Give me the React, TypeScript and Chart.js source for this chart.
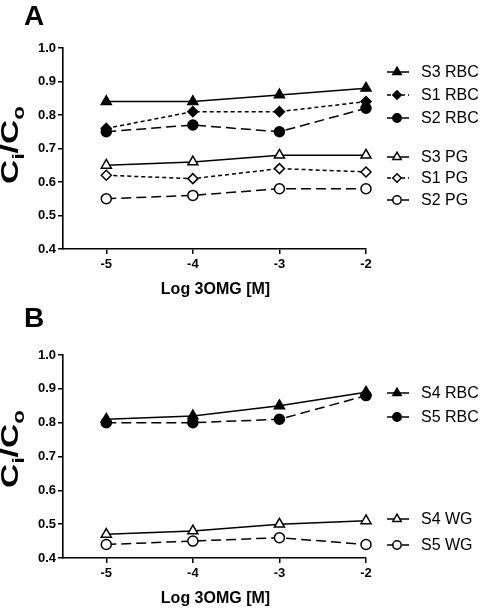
import React, { useEffect, useRef } from "react";
import { Chart, registerables } from "chart.js";
import { drawPoint } from "chart.js/helpers";

Chart.register(...registerables);

const FONT = '"Liberation Sans", Arial, Helvetica, sans-serif';

// ---------- data ----------
const doses = [-5, -4, -3, -2];
const xTicks = [-5, -4, -3, -2];
const yTicks = [0.4, 0.5, 0.6, 0.7, 0.8, 0.9, 1.0];

// Panel A
const s3RBC = [0.84, 0.84, 0.86, 0.88];
const s1RBC = [0.76, 0.81, 0.81, 0.84];
const s2RBC = [0.75, 0.77, 0.75, 0.82];
const s3PG = [0.65, 0.66, 0.68, 0.68];
const s1PG = [0.62, 0.61, 0.64, 0.63];
const s2PG = [0.55, 0.56, 0.58, 0.58];

// Panel B
const s4RBC = [0.81, 0.82, 0.85, 0.89];
const s5RBC = [0.8, 0.8, 0.81, 0.88];
const s4WG = [0.47, 0.48, 0.5, 0.51];
const s5WG = [0.44, 0.45, 0.46, 0.44];

const labelsA = ["S3 RBC", "S1 RBC", "S2 RBC", "S3 PG", "S1 PG", "S2 PG"];
const labelsB = ["S4 RBC", "S5 RBC", "S4 WG", "S5 WG"];

const xTitle = "Log 3OMG [M]";

// ---------- styles ----------
const SOLID: number[] = [];
const DOTTED = [4, 3];
const DASHED = [10, 5];

type Series = {
  label: string;
  values: number[];
  style: string;
  filled: boolean;
  dash: number[];
};

function makeDataset(s: Series) {
  const r = s.style === "triangle" ? 5.8 : 5;
  return {
    label: s.label,
    data: doses.map((x, i) => ({ x, y: s.values[i] })),
    borderColor: "#000",
    borderWidth: 1.5,
    borderDash: s.dash,
    backgroundColor: s.filled ? "#000" : "#fff",
    pointStyle: s.style,
    pointRadius: r,
    pointBackgroundColor: s.filled ? "#000" : "#fff",
    pointBorderColor: "#000",
    pointBorderWidth: 1.5,
    tension: 0,
    fill: false,
    clip: false,
  };
}

const seriesA: Series[] = [
  { label: labelsA[0], values: s3RBC, style: "triangle", filled: true, dash: SOLID },
  { label: labelsA[1], values: s1RBC, style: "rectRot", filled: true, dash: DOTTED },
  { label: labelsA[2], values: s2RBC, style: "circle", filled: true, dash: DASHED },
  { label: labelsA[3], values: s3PG, style: "triangle", filled: false, dash: SOLID },
  { label: labelsA[4], values: s1PG, style: "rectRot", filled: false, dash: DOTTED },
  { label: labelsA[5], values: s2PG, style: "circle", filled: false, dash: DASHED },
];

const seriesB: Series[] = [
  { label: labelsB[0], values: s4RBC, style: "triangle", filled: true, dash: SOLID },
  { label: labelsB[1], values: s5RBC, style: "circle", filled: true, dash: DASHED },
  { label: labelsB[2], values: s4WG, style: "triangle", filled: false, dash: SOLID },
  { label: labelsB[3], values: s5WG, style: "circle", filled: false, dash: DASHED },
];

// ---------- overlay plugin ----------
const overlayPlugin = {
  id: "overlay",
  afterDraw(chart: any, _args: any, opts: any) {
    const ctx: CanvasRenderingContext2D = chart.ctx;
    const ca = chart.chartArea;
    ctx.save();
    ctx.fillStyle = "#000";
    ctx.strokeStyle = "#000";

    // panel letter
    ctx.font = `bold 28px ${FONT}`;
    ctx.textAlign = "left";
    ctx.textBaseline = "alphabetic";
    ctx.fillText(opts.letter, 24, opts.letterY);

    // x title
    ctx.font = `bold 16px ${FONT}`;
    ctx.textAlign = "center";
    ctx.textBaseline = "middle";
    ctx.fillText(xTitle, (ca.left + ca.right) / 2 + 1, ca.bottom + opts.xTitleOffset);

    // y title  C_i / C_o
    ctx.save();
    ctx.translate(18, opts.yTitleY);
    ctx.rotate(-Math.PI / 2);
    ctx.scale(1.4, 1);
    const big = `bold 24px ${FONT}`;
    const sub = `bold 16px ${FONT}`;
    const parts = [
      { t: "C", f: big, dy: 0 },
      { t: "i", f: sub, dy: 6 },
      { t: "/", f: big, dy: 0 },
      { t: "C", f: big, dy: 0 },
      { t: "o", f: sub, dy: 6 },
    ];
    let total = 0;
    for (const p of parts) {
      ctx.font = p.f;
      total += ctx.measureText(p.t).width;
    }
    let x = -total / 2;
    ctx.textAlign = "left";
    ctx.textBaseline = "alphabetic";
    for (const p of parts) {
      ctx.font = p.f;
      ctx.fillText(p.t, x, p.dy);
      x += ctx.measureText(p.t).width;
    }
    ctx.restore();

    // legend
    const ys: number[] = opts.legendY;
    chart.data.datasets.forEach((ds: any, i: number) => {
      const y = ys[i];
      ctx.save();
      ctx.lineWidth = 1.5;
      ctx.setLineDash(ds.borderDash || []);
      ctx.beginPath();
      ctx.moveTo(387, y);
      ctx.lineTo(409, y);
      ctx.stroke();
      ctx.setLineDash([]);
      ctx.fillStyle = ds.pointBackgroundColor;
      ctx.strokeStyle = "#000";
      ctx.lineWidth = 1.5;
      drawPoint(
        ctx,
        {
          pointStyle: ds.pointStyle,
          rotation: 0,
          radius: ds.pointStyle === "triangle" ? 4.8 : 4.2,
          borderWidth: 1.5,
        } as any,
        397,
        y
      );
      ctx.restore();
      ctx.fillStyle = "#000";
      ctx.font = `16px ${FONT}`;
      ctx.textAlign = "left";
      ctx.textBaseline = "middle";
      ctx.fillText(ds.label, 421, y + 1);
    });

    ctx.restore();
  },
};

type PanelProps = {
  height: number;
  series: Series[];
  letter: string;
  letterY: number;
  top: number;
  xHeight: number;
  yTitleY: number;
  legendY: number[];
};

function Panel(p: PanelProps) {
  const ref = useRef<HTMLCanvasElement | null>(null);
  useEffect(() => {
    if (!ref.current) return;
    const axisCommon = {
      border: { display: true, color: "#000", width: 1.6 },
      grid: {
        display: true,
        drawOnChartArea: false,
        drawTicks: true,
        tickLength: 5,
        color: "#000",
        lineWidth: 1.5,
      },
    };
    const chart = new Chart(ref.current, {
      type: "line",
      data: { datasets: p.series.map(makeDataset) as any },
      options: {
        animation: false,
        responsive: false,
        maintainAspectRatio: false,
        devicePixelRatio: 1,
        layout: { padding: { left: 0, right: 114, top: p.top, bottom: 0 } },
        plugins: {
          legend: { display: false },
          tooltip: { enabled: false },
          overlay: {
            letter: p.letter,
            letterY: p.letterY,
            xTitleOffset: 41,
            yTitleY: p.yTitleY,
            legendY: p.legendY,
          },
        } as any,
        scales: {
          x: {
            type: "linear",
            min: -5.5,
            max: -2,
            afterBuildTicks: (s: any) => {
              s.ticks = xTicks.map((v) => ({ value: v }));
            },
            afterFit: (s: any) => {
              s.height = p.xHeight;
            },
            ...axisCommon,
            ticks: {
              color: "#000",
              padding: 3,
              font: { family: FONT, size: 13, weight: "bold" },
              callback: (v: any) => String(v),
            },
          },
          y: {
            type: "linear",
            min: 0.4,
            max: 1.0,
            afterBuildTicks: (s: any) => {
              s.ticks = yTicks.map((v) => ({ value: v }));
            },
            afterFit: (s: any) => {
              s.width = 63;
            },
            ...axisCommon,
            ticks: {
              color: "#000",
              padding: 2,
              font: { family: FONT, size: 13, weight: "bold" },
              callback: (v: any) => Number(v).toFixed(1),
            },
          },
        } as any,
      },
      plugins: [overlayPlugin as any],
    });
    return () => chart.destroy();
  }, []);
  return (
    <canvas
      ref={ref}
      width={480}
      height={p.height}
      style={{ display: "block", width: 480, height: p.height }}
    />
  );
}

export default function App() {
  return (
    <div style={{ position: "absolute", left: 0, top: 0, width: 480, height: 608, background: "#fff" }}>
      <Panel
        height={300}
        series={seriesA}
        letter="A"
        letterY={25}
        top={48}
        xHeight={51}
        yTitleY={145}
        legendY={[72, 95, 118, 157, 178, 200]}
      />
      <Panel
        height={308}
        series={seriesB}
        letter="B"
        letterY={27}
        top={55}
        xHeight={50}
        yTitleY={149}
        legendY={[93, 117, 219, 245]}
      />
    </div>
  );
}
